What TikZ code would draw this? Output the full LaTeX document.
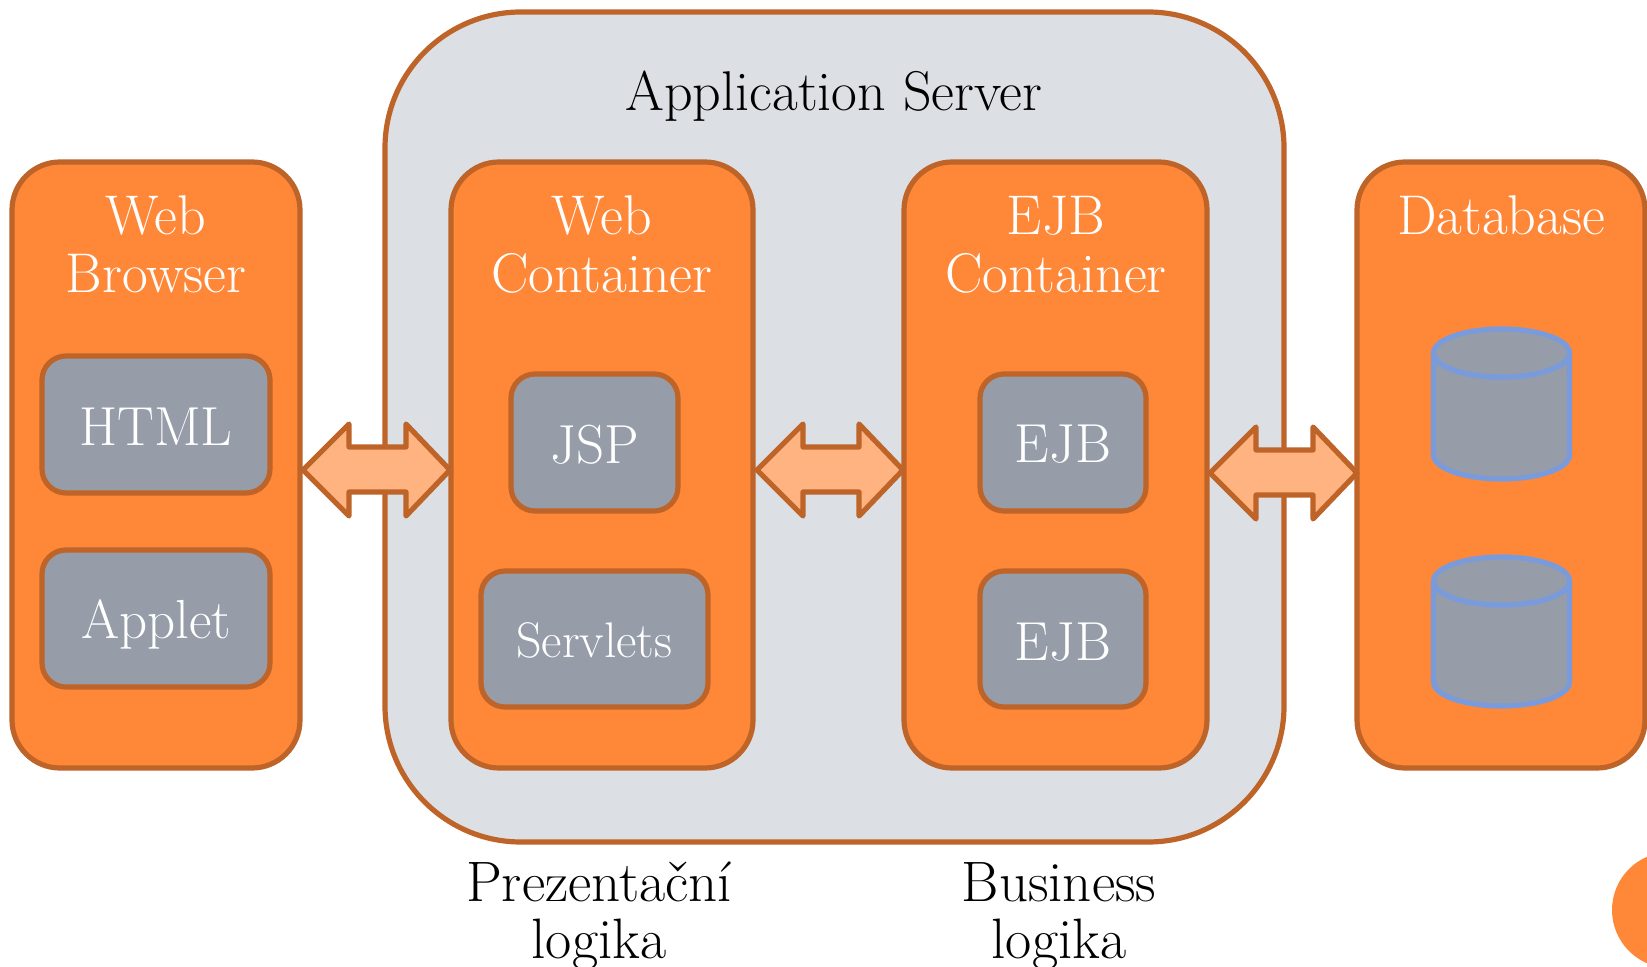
\documentclass[tikz,border=0pt]{standalone}
\usetikzlibrary{calc}
\definecolor{orangefill}{HTML}{FF8738}
\definecolor{rustline}{HTML}{BE6428}
\definecolor{slatefill}{HTML}{969DA9}
\definecolor{serverfill}{HTML}{DCDFE4}
\definecolor{arrowfill}{HTML}{FFB380}
\definecolor{cylline}{HTML}{7A9BDB}
\newcommand\pxbox[7]{%
  \pgfmathsetmacro\bw{(#5-#3)*0.5}\pgfmathsetmacro\bh{(#6-#4)*0.5}%
  \node[#1,minimum width=\bw pt,minimum height=\bh pt] (#2) at ({(#3+#5)/2},{(#4+#6)/2}) {#7};}
\newcommand\lowered[2]{\raisebox{-#1}[\height][\depth]{#2}}
\newcommand\cylinder[3]{% name, top centre y, bottom centre y
  \coordinate (#1t) at (1501.5,#2);
  \coordinate (#1b) at (1501.5,#3);
  \draw[cylstyle] ($(#1t)+(-68,0)$) -- ($(#1b)+(-68,0)$) arc[start angle=180,end angle=0,x radius=68,y radius=24] -- ($(#1t)+(68,0)$) arc[start angle=0,end angle=180,x radius=68,y radius=24] -- cycle;
  \draw[cylstyle] (#1t) ellipse[x radius=68,y radius=24];}
\newcommand\dblarrow[2]{%
  \draw[bigarrow] (#1) -- ($(#1)+(46,-46)$) -- ($(#1)+(46,-23)$) -- ($(#2)+(-44,-23)$) -- ($(#2)+(-44,-46)$) -- (#2)
    -- ($(#2)+(-44,46)$) -- ($(#2)+(-44,22)$) -- ($(#1)+(46,22)$) -- ($(#1)+(46,46)$) -- cycle;}
\tikzset{
  basebox/.style={rectangle,line width=2.6pt,inner sep=0pt,outer sep=0pt,draw=rustline},
  serverbox/.style={basebox,fill=serverfill,rounded corners=68pt},
  containerbox/.style={basebox,fill=orangefill,rounded corners=24pt},
  itembox/.style={basebox,fill=slatefill,rounded corners=12pt,text=white,font=\fontsize{27.5}{29}\selectfont},
  smallitem/.style={itembox,font=\fontsize{25}{29}\selectfont},
  whitelabel/.style={text=white,align=center,inner sep=0pt,font=\fontsize{28}{29}\selectfont},
  blacklabel/.style={text=black,align=center,inner sep=0pt,font=\fontsize{28.5}{28.5}\selectfont},
  titlelabel/.style={blacklabel,font=\fontsize{28}{29}\selectfont},
  bigarrow/.style={draw=rustline,fill=arrowfill,line width=2.6pt,line join=round},
  cylstyle/.style={draw=cylline,fill=slatefill,line width=2.6pt,line join=round},
}
\begin{document}
\begin{tikzpicture}[x=0.5pt,y=-0.5pt]
\useasboundingbox (0,0) rectangle (1647,967);
\clip (0,0) rectangle (1647,967);
\pxbox{serverbox}{server}{385}{12}{1284}{842}{}
\pxbox{containerbox}{browser}{12}{162}{300}{768}{}
\pxbox{containerbox}{webc}{451}{162}{753}{768}{}
\pxbox{containerbox}{ejbc}{904}{162}{1207}{768}{}
\pxbox{containerbox}{db}{1357}{162}{1645}{768}{}
\pxbox{itembox}{html}{42}{356}{270}{493}{\lowered{1pt}{HTML}}
\pxbox{itembox}{applet}{42}{550}{270}{687}{\lowered{3pt}{Applet}}
\pxbox{itembox}{jsp}{511}{374}{678}{511}{\lowered{1pt}{JSP}}
\pxbox{smallitem}{servlets}{481}{571}{708}{707}{\lowered{0.5pt}{Servlets}}
\pxbox{itembox}{ejba}{980}{374}{1146}{511}{\lowered{1pt}{EJB}}
\pxbox{itembox}{ejbb}{980}{571}{1146}{707}{\lowered{1.5pt}{EJB}}
\node[titlelabel] (servertitle) at (834,96) {Application Server};
\node[whitelabel,anchor=base] (browsertitle) at (156,293) {Web\\Browser};
\node[whitelabel,anchor=base] (webtitle) at (602,293) {Web\\Container};
\node[whitelabel,anchor=base] (ejbtitle) at (1056,293) {EJB\\Container};
\node[whitelabel,anchor=base] (dbtitle) at (1501,235) {Database};
\node[blacklabel,anchor=base] (prez) at (599,958) {Prezentační\\logika};
\node[blacklabel,anchor=base] (bus) at (1059,958) {Business\\logika};
\cylinder{cyla}{353}{455}
\cylinder{cylb}{581}{682}
\coordinate (a1l) at ($(browser.east)+(3,5)$);
\coordinate (a1r) at ($(webc.west)+(-1,5)$);
\coordinate (a2l) at ($(webc.east)+(4,5)$);
\coordinate (a2r) at ($(ejbc.west)+(-1,5)$);
\coordinate (a3l) at ($(ejbc.east)+(3,8)$);
\coordinate (a3r) at ($(db.west)+(0,8)$);
\dblarrow{a1l}{a1r}
\dblarrow{a2l}{a2r}
\dblarrow{a3l}{a3r}
\fill[orangefill] (1670,910) circle[radius=58];
\end{tikzpicture}
\end{document}
